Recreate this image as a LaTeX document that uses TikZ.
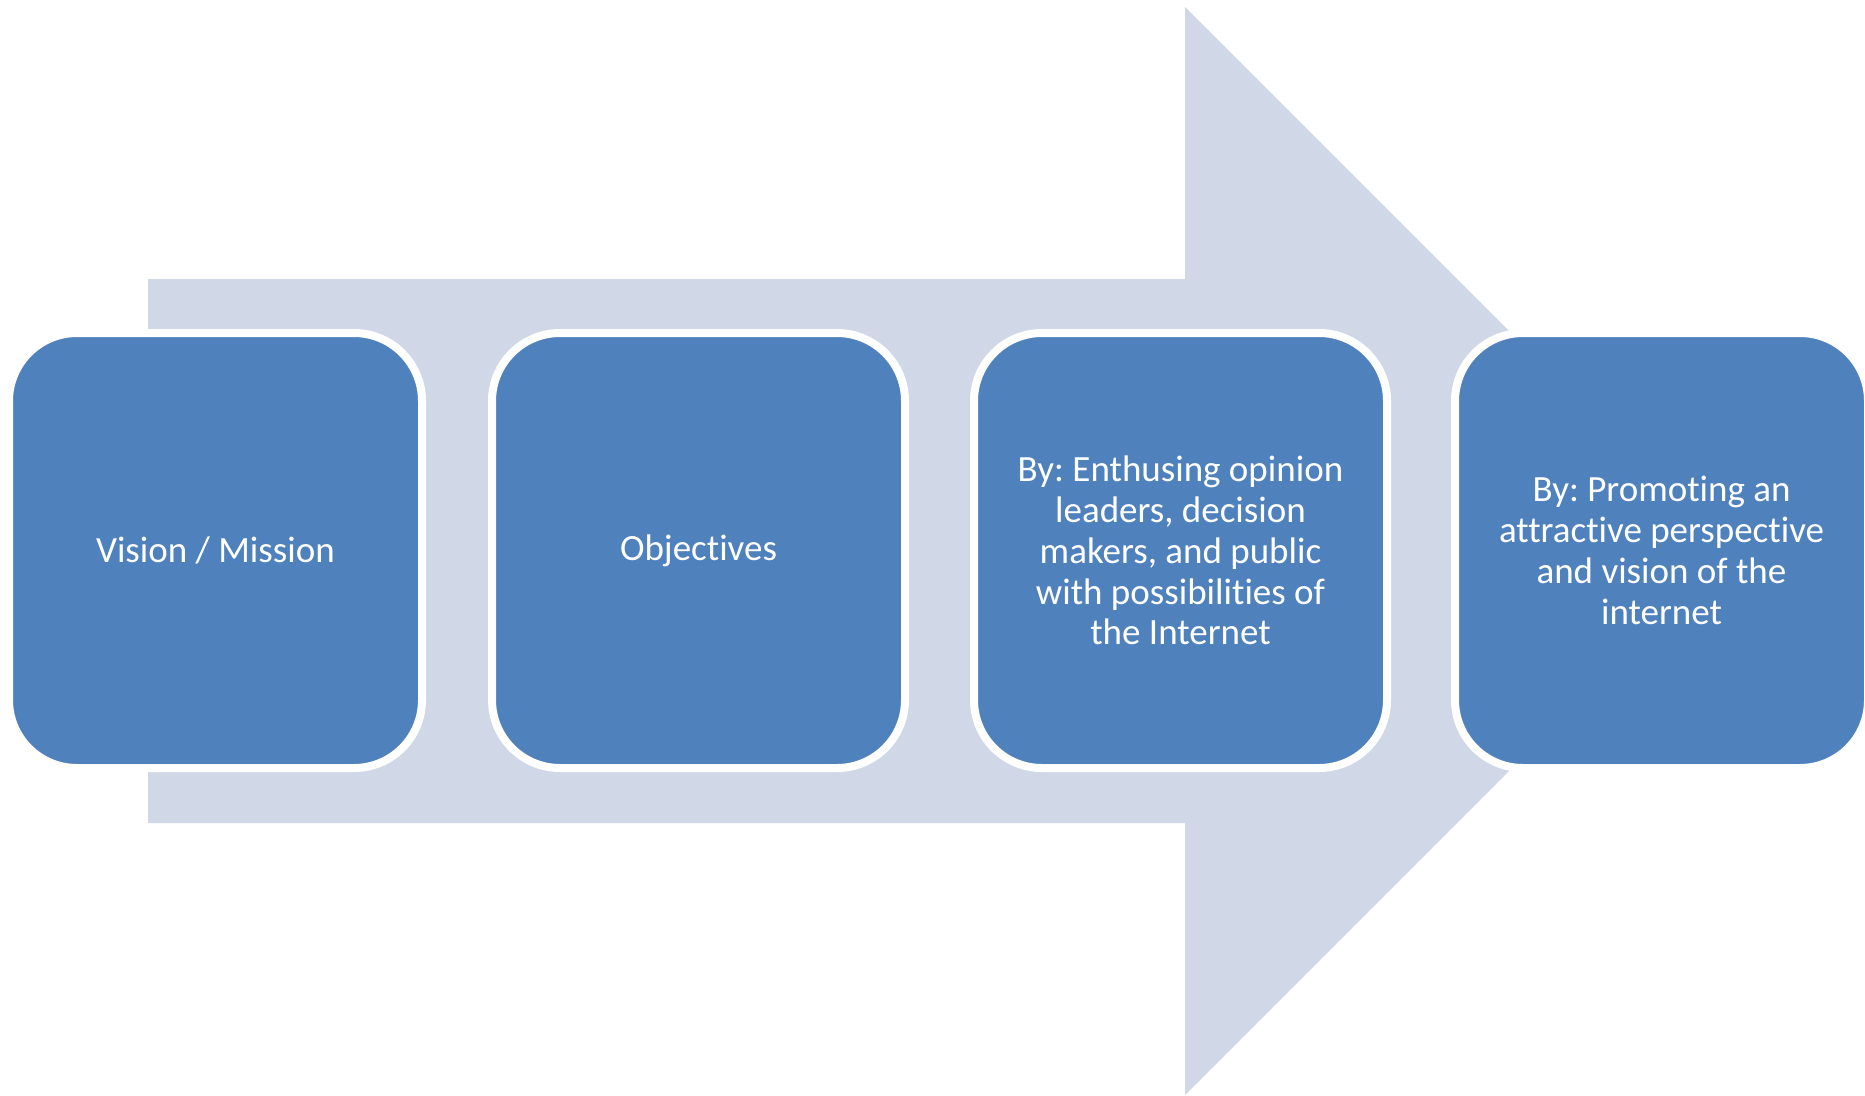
\documentclass[tikz,border=0pt]{standalone}
\usepackage{fontspec}
\setmainfont{Carlito}[Ligatures=NoCommon, Contextuals=NoAlternate, RawFeature={-liga;-clig;-calt;-dlig}]
\frenchspacing
\definecolor{boxblue}{HTML}{4F81BD}
\definecolor{arrowgray}{HTML}{D0D8E8}
\begin{document}
\begin{tikzpicture}[x=1pt,y=-1pt,
  stepbox/.style={rectangle, rounded corners=68pt, fill=boxblue, draw=white,
    line width=8pt, minimum width=413pt, minimum height=435pt, inner sep=0pt,
    text=white, align=center, font=\fontsize{37}{40.8}\selectfont}]
\useasboundingbox (0,0) rectangle (1865,1095);
\fill[arrowgray] (148,279) -- (1185,279) -- (1185,7) -- (1729,551) -- (1185,1095) -- (1185,823) -- (148,823) -- cycle;
\node[stepbox] (b1) at (215.5,550.5) {Vision / Mission};
\node[stepbox] (b2) at (698.5,550.5) {Objectives};
\node[stepbox] (b3) at (1180.5,550.5) {By: Enthusing opinion\\leaders, decision\\makers, and public\\with possibilities of\\the Internet};
\node[stepbox] (b4) at (1661.5,550.5) {By: Promoting an\\attractive perspective\\and vision of the\\internet};
\end{tikzpicture}
\end{document}
